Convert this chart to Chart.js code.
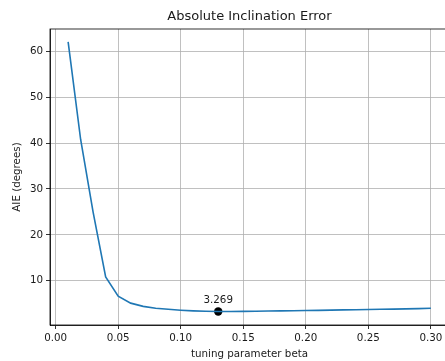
<!DOCTYPE html>
<html>
<head>
<meta charset="utf-8">
<script src="https://cdn.jsdelivr.net/npm/chart.js@4/dist/chart.umd.min.js"></script>
<style>
  html, body { margin: 0; padding: 0; background: #fff; overflow: hidden; }
  #wrap { width: 445px; height: 361px; overflow: hidden; }
  #wrap div { width: 460px; height: 361px; }
</style>
</head>
<body>
<div id="wrap"><div><canvas id="aie-chart"></canvas></div></div>
<script>
const betaValues = [0.01, 0.02, 0.03, 0.04, 0.05, 0.06, 0.07, 0.08, 0.09, 0.10,
                    0.11, 0.12, 0.13, 0.14, 0.15, 0.16, 0.17, 0.18, 0.19, 0.20,
                    0.21, 0.22, 0.23, 0.24, 0.25, 0.26, 0.27, 0.28, 0.29, 0.30];
const aieValues = [62.1, 40.8, 24.9, 10.8, 6.6, 5.1, 4.4, 4.0, 3.75, 3.55,
                   3.41, 3.32, 3.269, 3.28, 3.30, 3.33, 3.37, 3.41, 3.45, 3.49,
                   3.53, 3.57, 3.62, 3.66, 3.71, 3.75, 3.80, 3.85, 3.90, 3.97];
const bestBeta = 0.13;
const bestAie = 3.269;
const xTicks = [0.00, 0.05, 0.10, 0.15, 0.20, 0.25, 0.30];
const yTicks = [10, 20, 30, 40, 50, 60];

const FONT = 'DejaVu Sans';
const TEXT = '#1a1a1a';

// box around the axes + title + annotation, matplotlib style
const extras = {
    id: 'extras',
    afterDraw(chart) {
        const { ctx, chartArea: a, scales } = chart;
        ctx.save();
        ctx.strokeStyle = '#000';
        ctx.lineWidth = 0.8;
        ctx.strokeRect(a.left, a.top, a.right - a.left, a.bottom - a.top);

        ctx.fillStyle = TEXT;
        ctx.textAlign = 'center';
        ctx.textBaseline = 'middle';
        ctx.font = '13px "' + FONT + '"';
        ctx.fillText('Absolute Inclination Error', (a.left + a.right) / 2, 17);

        const px = scales.x.getPixelForValue(bestBeta);
        const py = scales.y.getPixelForValue(bestAie);
        ctx.font = '10.3px "' + FONT + '"';
        ctx.textBaseline = 'alphabetic';
        ctx.fillText(bestAie.toFixed(3), px, py - 9);
        ctx.restore();
    }
};

new Chart(document.getElementById('aie-chart'), {
    type: 'line',
    data: {
        datasets: [
            {
                data: betaValues.map((b, i) => ({ x: b, y: aieValues[i] })),
                borderColor: '#1f77b4',
                borderWidth: 1.6,
                pointRadius: 0,
                tension: 0,
                fill: false
            },
            {
                data: [{ x: bestBeta, y: bestAie }],
                showLine: false,
                pointRadius: 4.2,
                pointBackgroundColor: '#000',
                pointBorderColor: '#000',
                pointBorderWidth: 0
            }
        ]
    },
    options: {
        responsive: true,
        maintainAspectRatio: false,
        animation: false,
        events: [],
        layout: { padding: { left: 5, right: 11, top: 29, bottom: 0 } },
        plugins: {
            legend: { display: false },
            tooltip: { enabled: false },
            title: { display: false }
        },
        scales: {
            x: {
                type: 'linear',
                min: -0.0045,
                max: 0.3145,
                afterBuildTicks: s => { s.ticks = xTicks.map(v => ({ value: v })); },
                afterFit: s => { s.height = 36; },
                grid: { color: '#b0b0b0', lineWidth: 0.8, tickLength: 4, tickColor: '#000', tickWidth: 0.8 },
                border: { display: true, color: '#000', width: 0.8 },
                ticks: {
                    color: TEXT,
                    font: { family: FONT, size: 10.3 },
                    padding: 3,
                    maxRotation: 0,
                    callback: v => v.toFixed(2)
                },
                title: {
                    display: true,
                    text: 'tuning parameter beta',
                    color: TEXT,
                    font: { family: FONT, size: 10.3 },
                    padding: { top: 1, bottom: 0 }
                }
            },
            y: {
                type: 'linear',
                min: 0.33,
                max: 64.9,
                afterBuildTicks: s => { s.ticks = yTicks.map(v => ({ value: v })); },
                afterFit: s => { s.width = 45; },
                grid: { color: '#b0b0b0', lineWidth: 0.8, tickLength: 4, tickColor: '#000', tickWidth: 0.8 },
                border: { display: true, color: '#000', width: 0.8 },
                ticks: {
                    color: TEXT,
                    font: { family: FONT, size: 10.3 },
                    padding: 3
                },
                title: {
                    display: true,
                    text: 'AIE (degrees)',
                    color: TEXT,
                    font: { family: FONT, size: 10.3 },
                    padding: { top: 6, bottom: 0 }
                }
            }
        }
    },
    plugins: [extras]
});
</script>
</body>
</html>
